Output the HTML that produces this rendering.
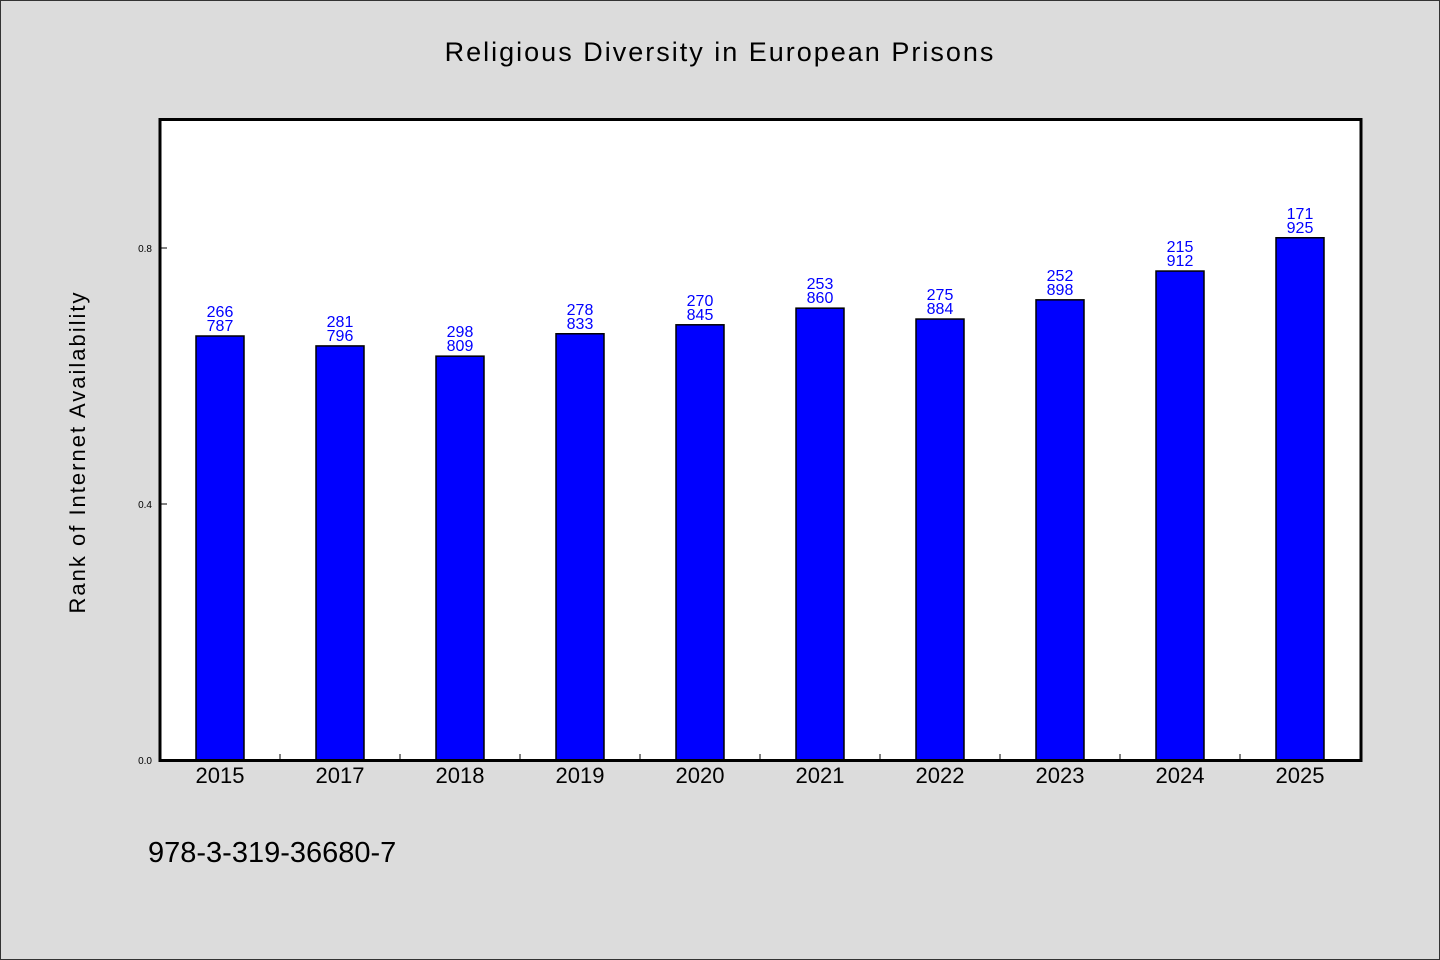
<!DOCTYPE html>
<html><head><meta charset="utf-8"><style>
html,body{margin:0;padding:0;background:#dcdcdc}
svg{display:block}
text{font-family:"WenQuanYi Zen Hei","Liberation Sans",sans-serif}
</style></head><body>
<svg id="chart" width="1440" height="960" xmlns="http://www.w3.org/2000/svg">
<rect x="0.5" y="0.5" width="1439" height="959" fill="#dcdcdc" stroke="#333"/>
<text x="720" y="61" text-anchor="middle" font-size="27" letter-spacing="2" fill="#000">Religious Diversity in European Prisons</text>
<rect x="160" y="119.5" width="1201" height="641" fill="#fff"/>
<g id="bars"></g>
<g id="axes"></g>
<rect x="160" y="119.5" width="1201" height="641" fill="none" stroke="#000" stroke-width="3"/>
<text transform="translate(85,452) rotate(-90)" text-anchor="middle" font-size="22" letter-spacing="2" fill="#000">Rank of Internet Availability</text>
<text x="148" y="862" font-size="29" fill="#000">978-3-319-36680-7</text>
</svg>
<script>
const categories=["2015","2017","2018","2019","2020","2021","2022","2023","2024","2025"];
const values=[0.6625,0.647,0.631,0.666,0.680,0.706,0.689,0.719,0.764,0.816];
const labelTop=["266","281","298","278","270","253","275","252","215","171"];
const labelBottom=["787","796","809","833","845","860","884","898","912","925"];
const yTicks=[0,0.4,0.8];
const yTickLabels=["0.0","0.4","0.8"];
const NS="http://www.w3.org/2000/svg";
const X0=160,X1=1360,Y0=760,Y1=120;
const band=(X1-X0)/categories.length;
function xc(i){return X0+band*(i+0.5);}
function y(v){return Y0-(v-0)/(1-0)*(Y0-Y1);}
function mk(tag,attrs,parent,txt){const e=document.createElementNS(NS,tag);for(const k in attrs)e.setAttribute(k,attrs[k]);if(txt!==undefined)e.textContent=txt;parent.appendChild(e);return e;}
const bars=document.getElementById('bars'),axes=document.getElementById('axes');
categories.forEach((c,i)=>{
  const b=mk('rect',{x:xc(i)-24,y:y(values[i]),width:48,height:Y0-y(values[i]),fill:'#0000ff',stroke:'#000','stroke-width':1.5},bars);
  
  
  const t1=mk('text',{x:xc(i),y:y(values[i])-19,'text-anchor':'middle','font-size':16,fill:'#0000ff'},bars,labelTop[i]);
  
  
  const t2=mk('text',{x:xc(i),y:y(values[i])-5,'text-anchor':'middle','font-size':16,fill:'#0000ff'},bars,labelBottom[i]);
  
  
  const xl=mk('text',{x:xc(i),y:783,'text-anchor':'middle','font-size':22,fill:'#000'},axes,c);
  
  
  if(i>0){
    const tk=mk('line',{x1:X0+band*i,x2:X0+band*i,y1:Y0,y2:Y0-6,stroke:'#000','stroke-width':1},axes);
    
    
  }
});
yTicks.forEach((v,i)=>{
  const tk=mk('line',{x1:X0,x2:X0+7,y1:y(v),y2:y(v),stroke:'#000','stroke-width':1},axes);
  
  
  const tl=mk('text',{x:152,y:y(v)+4,'text-anchor':'end','font-size':10,fill:'#000'},axes,yTickLabels[i]);
  
  
});
</script>
</body></html>
